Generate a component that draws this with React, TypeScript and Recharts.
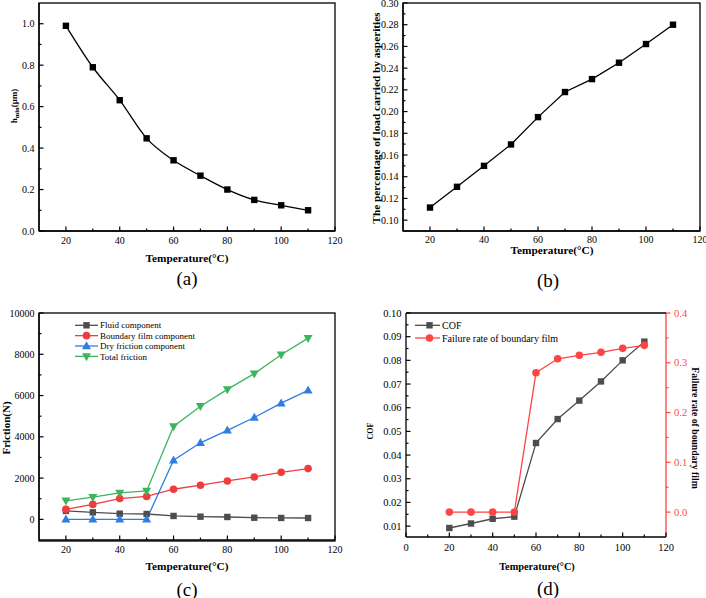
import { LineChart, Line, XAxis, YAxis, Legend } from "recharts";

const FONT = '"Liberation Serif", "Times New Roman", serif';

// temperatures (°C) shared by every panel
const temps = [20, 30, 40, 50, 60, 70, 80, 90, 100, 110];

// (a) minimum film thickness, μm
const hMin = [0.99, 0.79, 0.631, 0.447, 0.341, 0.267, 0.2, 0.15, 0.124, 0.1];
// (b) share of load carried by asperities
const asperityShare = [0.1116, 0.1307, 0.15, 0.1697, 0.1949, 0.218, 0.2299, 0.245, 0.2622, 0.28];
// (c) friction components, N
const fluidFriction = [410, 340, 275, 260, 165, 130, 115, 80, 68, 65];
const boundaryFriction = [485, 725, 1010, 1110, 1460, 1655, 1860, 2055, 2280, 2460];
const dryFriction = [0, 0, 0, 0, 2865, 3710, 4310, 4935, 5630, 6250];
const totalFriction = [900, 1080, 1285, 1380, 4500, 5480, 6300, 7060, 7980, 8780];
// (d) coefficient of friction and boundary film failure rate
const cof = [0.0092, 0.0111, 0.0131, 0.014, 0.0451, 0.0552, 0.063, 0.0711, 0.08, 0.0879];
const failureRate = [0, 0, 0, 0, 0.28, 0.308, 0.315, 0.321, 0.329, 0.335];

// axis ticks (majors get a label, the rest are minor marks)
const tempTicks = [20, 30, 40, 50, 60, 70, 80, 90, 100, 110, 120];
const tempMajors = [20, 40, 60, 80, 100, 120];
const tempTicksD = [0, 10, 20, 30, 40, 50, 60, 70, 80, 90, 100, 110, 120];
const tempMajorsD = [0, 20, 40, 60, 80, 100, 120];
const hTicks = [0, 0.1, 0.2, 0.3, 0.4, 0.5, 0.6, 0.7, 0.8, 0.9, 1.0];
const hMajors = [0, 0.2, 0.4, 0.6, 0.8, 1.0];
const shareTicks = [0.1, 0.11, 0.12, 0.13, 0.14, 0.15, 0.16, 0.17, 0.18, 0.19, 0.2, 0.21, 0.22, 0.23, 0.24, 0.25, 0.26, 0.27, 0.28, 0.29, 0.3];
const shareMajors = [0.1, 0.12, 0.14, 0.16, 0.18, 0.2, 0.22, 0.24, 0.26, 0.28, 0.3];
const frictionTicks = [0, 1000, 2000, 3000, 4000, 5000, 6000, 7000, 8000, 9000, 10000];
const frictionMajors = [0, 2000, 4000, 6000, 8000, 10000];
const cofTicks = [0.01, 0.015, 0.02, 0.025, 0.03, 0.035, 0.04, 0.045, 0.05, 0.055, 0.06, 0.065, 0.07, 0.075, 0.08, 0.085, 0.09, 0.095, 0.1];
const cofMajors = [0.01, 0.02, 0.03, 0.04, 0.05, 0.06, 0.07, 0.08, 0.09, 0.1];
const rateTicks = [0, 0.05, 0.1, 0.15, 0.2, 0.25, 0.3, 0.35, 0.4];
const rateMajors = [0, 0.1, 0.2, 0.3, 0.4];

const GRAY = "#4d4d4d";
const RED = "#f03c3c";
const BLUE = "#2d7de3";
const GREEN = "#3db55c";
const RATE_RED = "#ff4444";

type Marker = "square" | "circle" | "up" | "down";

const frictionSeries = [
  { key: "fluid", name: "Fluid component", color: GRAY, marker: "square" as Marker },
  { key: "boundary", name: "Boundary film component", color: RED, marker: "circle" as Marker },
  { key: "dry", name: "Dry friction component", color: BLUE, marker: "up" as Marker },
  { key: "total", name: "Total friction", color: GREEN, marker: "down" as Marker },
];
const cofSeries = [
  { key: "cof", name: "COF", color: GRAY, marker: "square" as Marker },
  { key: "rate", name: "Failure rate of boundary film", color: RATE_RED, marker: "circle" as Marker },
];

const rows = temps.map((t, i) => ({
  t,
  h: hMin[i],
  share: asperityShare[i],
  fluid: fluidFriction[i],
  boundary: boundaryFriction[i],
  dry: dryFriction[i],
  total: totalFriction[i],
  cof: cof[i],
  rate: failureRate[i],
}));

function markerShape(kind: Marker, cx: number, cy: number, color: string, key?: string) {
  switch (kind) {
    case "square":
      return <rect key={key} x={cx - 3.2} y={cy - 3.2} width={6.4} height={6.4} fill={color} />;
    case "circle":
      return <circle key={key} cx={cx} cy={cy} r={3.8} fill={color} />;
    case "up":
      return <polygon key={key} points={`${cx},${cy - 4.8} ${cx - 4.5},${cy + 3.2} ${cx + 4.5},${cy + 3.2}`} fill={color} />;
    default:
      return <polygon key={key} points={`${cx},${cy + 4.8} ${cx - 4.5},${cy - 3.2} ${cx + 4.5},${cy - 3.2}`} fill={color} />;
  }
}

const dotOf = (kind: Marker, color: string) => (p: any) =>
  markerShape(kind, p.cx, p.cy, color, `m-${p.index}`);

// inward ticks with labels on majors only; "right" draws outward ticks
function axisTick(
  side: "bottom" | "left" | "right",
  majors: number[],
  fmt: (v: number) => string,
  color = "#000",
  fontSize = 10,
  labelGap = 13,
) {
  return (props: any) => {
    const { x, y, payload } = props;
    const v = Number(payload.value);
    const major = majors.some((m) => Math.abs(m - v) < 1e-9);
    const len = major ? 4.5 : 2.5;
    if (side === "bottom") {
      return (
        <g>
          <line x1={x} y1={y} x2={x} y2={y - len} stroke={color} strokeWidth={1.2} />
          {major && (
            <text x={x} y={y + labelGap} textAnchor="middle" fill={color} fontSize={fontSize} fontFamily={FONT}>
              {fmt(v)}
            </text>
          )}
        </g>
      );
    }
    if (side === "left") {
      return (
        <g>
          <line x1={x} y1={y} x2={x + len} y2={y} stroke={color} strokeWidth={1.2} />
          {major && (
            <text x={x - 4.5} y={y} dy="0.35em" textAnchor="end" fill={color} fontSize={fontSize} fontFamily={FONT}>
              {fmt(v)}
            </text>
          )}
        </g>
      );
    }
    return (
      <g>
        <line x1={x} y1={y} x2={x + len} y2={y} stroke={color} strokeWidth={1.2} />
        {major && (
          <text x={x + 8} y={y} dy="0.35em" textAnchor="start" fill={color} fontSize={fontSize} fontFamily={FONT}>
            {fmt(v)}
          </text>
        )}
      </g>
    );
  };
}

type LegendEntry = { name: string; color: string; marker: Marker };

function legendBox(entries: LegendEntry[], rowH: number, lineX2: number, markX: number, textX: number, fontSize: number) {
  return () => (
    <svg width={200} height={entries.length * rowH + 8} style={{ display: "block" }}>
      {entries.map((e, i) => {
        const y = 6.3 + i * rowH;
        return (
          <g key={e.name}>
            <line x1={5} y1={y} x2={lineX2} y2={y} stroke={e.color} strokeWidth={1.3} />
            {markerShape(e.marker, markX, y, e.color)}
            <text x={textX} y={y} dy="0.35em" fontSize={fontSize} fontFamily={FONT} fill="#000">
              {e.name}
            </text>
          </g>
        );
      })}
    </svg>
  );
}

const axisLine = { stroke: "#000", strokeWidth: 1.3 };
const fix = (d: number) => (v: number) => v.toFixed(d);
const whole = (v: number) => String(Math.round(v));

const panel = (left: number, top: number): React.CSSProperties => ({
  position: "absolute",
  left,
  top,
  width: 353,
  height: 299,
});

export default function App() {
  return (
    <div
      style={{
        position: "absolute",
        left: 0,
        top: 0,
        width: 706,
        height: 598,
        background: "#fff",
        fontFamily: FONT,
        overflow: "hidden",
      }}
    >
      {/* (a) film thickness: plot box 39..335 x 3..231 */}
      <div style={panel(0, 0)}>
        <LineChart width={353} height={299} data={rows} margin={{ top: 3, right: 18, bottom: 38, left: 0 }}>
          <XAxis dataKey="t" type="number" domain={[10, 120]} ticks={tempTicks} interval={0} height={30}
            tickSize={0} tickMargin={0} tickLine={false} axisLine={axisLine}
            tick={axisTick("bottom", tempMajors, whole)} />
          <YAxis type="number" domain={[0, 1.1]} ticks={hTicks} interval={0} width={39}
            tickSize={0} tickMargin={0} tickLine={false} axisLine={axisLine}
            tick={axisTick("left", hMajors, fix(1))} />
          <Line type="monotone" dataKey="h" stroke="#000" strokeWidth={1.3}
            dot={dotOf("square", "#000")} isAnimationActive={false} />
        </LineChart>
      </div>

      {/* (b) asperity load share: plot box 403..700 x 3..231 */}
      <div style={panel(353, 0)}>
        <LineChart width={353} height={299} data={rows} margin={{ top: 3, right: 6, bottom: 38, left: 0 }}>
          <XAxis dataKey="t" type="number" domain={[10, 120]} ticks={tempTicks} interval={0} height={30}
            tickSize={0} tickMargin={0} tickLine={false} axisLine={axisLine}
            tick={axisTick("bottom", tempMajors, whole, "#000", 10, 11.5)} />
          <YAxis type="number" domain={[0.09, 0.3]} ticks={shareTicks} interval={0} width={50}
            tickSize={0} tickMargin={0} tickLine={false} axisLine={axisLine}
            tick={axisTick("left", shareMajors, fix(2))} />
          <Line type="linear" dataKey="share" stroke="#000" strokeWidth={1.3}
            dot={dotOf("square", "#000")} isAnimationActive={false} />
        </LineChart>
      </div>

      {/* (c) friction components: plot box 39..335 x 313..540 */}
      <div style={panel(0, 299)}>
        <LineChart width={353} height={299} data={rows} margin={{ top: 14, right: 18, bottom: 28, left: 0 }}>
          <XAxis dataKey="t" type="number" domain={[10, 120]} ticks={tempTicks} interval={0} height={30}
            tickSize={0} tickMargin={0} tickLine={false} axisLine={axisLine}
            tick={axisTick("bottom", tempMajors, whole)} />
          <YAxis type="number" domain={[-1000, 10000]} ticks={frictionTicks} interval={0} width={39}
            tickSize={0} tickMargin={0} tickLine={false} axisLine={axisLine}
            tick={axisTick("left", frictionMajors, whole)} />
          {frictionSeries.map((s) => (
            <Line key={s.key} type="linear" dataKey={s.key} name={s.name} stroke={s.color} strokeWidth={1.3}
              dot={dotOf(s.marker, s.color)} isAnimationActive={false} />
          ))}
          <Legend layout="vertical" align="center" verticalAlign="middle"
            wrapperStyle={{ left: 70, top: 20, width: 200 }}
            content={legendBox(frictionSeries, 10.35, 28, 16.5, 30, 9)} />
        </LineChart>
      </div>

      {/* (d) COF and boundary film failure rate: plot box 406..666 x 313..537 */}
      <div style={panel(353, 299)}>
        <LineChart width={353} height={299} data={rows} margin={{ top: 14, right: 0, bottom: 31, left: 0 }}>
          <XAxis dataKey="t" type="number" domain={[0, 120]} ticks={tempTicksD} interval={0} height={30}
            tickSize={0} tickMargin={0} tickLine={false} axisLine={axisLine}
            tick={axisTick("bottom", tempMajorsD, whole, "#000", 10.5, 14)} />
          <YAxis type="number" domain={[0.0054, 0.1]} ticks={cofTicks} interval={0} width={53}
            tickSize={0} tickMargin={0} tickLine={false} axisLine={axisLine}
            tick={axisTick("left", cofMajors, fix(2), "#000", 10.5)} />
          <YAxis yAxisId="rate" orientation="right" type="number" domain={[-0.05, 0.4]} ticks={rateTicks}
            interval={0} width={40} tickSize={0} tickMargin={0} tickLine={false}
            axisLine={{ stroke: RATE_RED, strokeWidth: 1.3 }}
            tick={axisTick("right", rateMajors, fix(1), RATE_RED, 10.5)} />
          <Line type="linear" dataKey="cof" name="COF" stroke={GRAY} strokeWidth={1.3}
            dot={dotOf("square", GRAY)} isAnimationActive={false} />
          <Line yAxisId="rate" type="linear" dataKey="rate" name="Failure rate of boundary film"
            stroke={RATE_RED} strokeWidth={1.3} dot={dotOf("circle", RATE_RED)} isAnimationActive={false} />
          <Legend layout="vertical" align="center" verticalAlign="middle"
            wrapperStyle={{ left: 57, top: 20, width: 200 }}
            content={legendBox(cofSeries, 12.7, 30, 19.5, 32, 10)} />
        </LineChart>
      </div>

      {/* plot frames, axis titles and panel captions */}
      <svg width={706} height={598} style={{ position: "absolute", left: 0, top: 0, pointerEvents: "none" }}
        fontFamily={FONT}>
        <g fill="none" stroke="#000" strokeWidth={1.3}>
          <rect x={39} y={3} width={296} height={228} />
          <rect x={403} y={3} width={297} height={228} />
          <rect x={39} y={313} width={296} height={228} />
          <line x1={406} y1={313} x2={666} y2={313} />
        </g>
        <g fontWeight="bold" fill="#000">
          <text x={187} y={257.5} dominantBaseline="central" textAnchor="middle" fontSize={11.3}>Temperature(°C)</text>
          <text x={552} y={250} dominantBaseline="central" textAnchor="middle" fontSize={11.3}>Temperature(°C)</text>
          <text x={187} y={566} dominantBaseline="central" textAnchor="middle" fontSize={11.3}>Temperature(°C)</text>
          <text x={537} y={566} dominantBaseline="central" textAnchor="middle" fontSize={10.3}>Temperature(°C)</text>

          <text x={0} y={0} textAnchor="middle" dominantBaseline="central" fontSize={9}
            transform="translate(14 106) rotate(-90)">
            h<tspan fontSize={6.5} dy={2}>min</tspan><tspan dy={-2}>(μm)</tspan>
          </text>
          <text x={0} y={0} textAnchor="middle" dominantBaseline="central" fontSize={11.3}
            transform="translate(376 118) rotate(-90)">The percentage of load carried by asperities</text>
          <text x={0} y={0} textAnchor="middle" dominantBaseline="central" fontSize={11}
            transform="translate(5.5 428) rotate(-90)">Friction(N)</text>
          <text x={0} y={0} textAnchor="middle" dominantBaseline="central" fontSize={8}
            transform="translate(370.5 431) rotate(-90)">COF</text>
          <text x={0} y={0} textAnchor="middle" dominantBaseline="central" fontSize={9.7}
            transform="translate(695 428) rotate(90)">Failure rate of boundary film</text>
        </g>
        <g fontSize={19} fill="#000" textAnchor="middle">
          <text x={187} y={278} dominantBaseline="central">(a)</text>
          <text x={548} y={280} dominantBaseline="central">(b)</text>
          <text x={187} y={589} dominantBaseline="central">(c)</text>
          <text x={548} y={588} dominantBaseline="central">(d)</text>
        </g>
      </svg>
    </div>
  );
}
